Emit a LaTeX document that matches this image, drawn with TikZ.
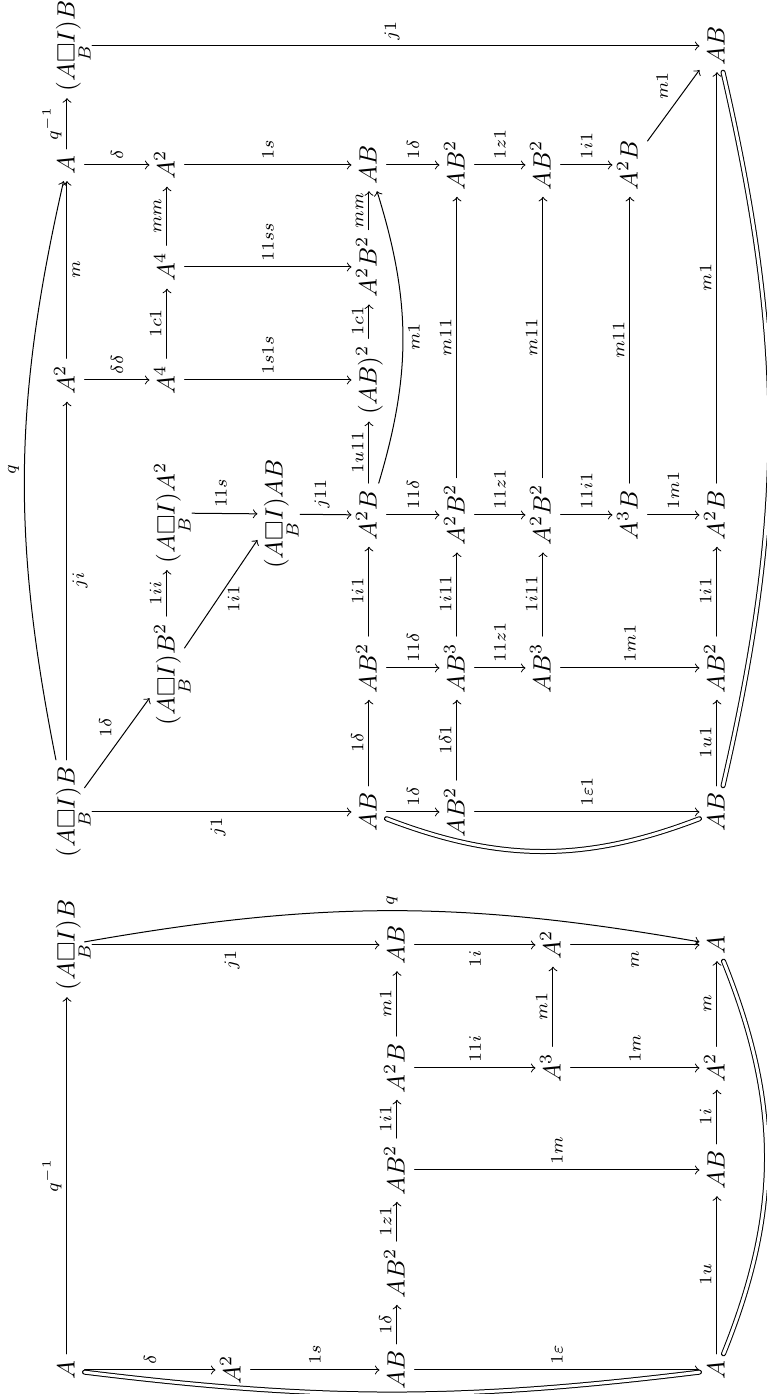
\documentclass[tikz,border=0pt]{standalone}
\usepackage{amsmath,amssymb}
\newcommand{\boxB}{(A\underset{B}{\square}I)}
\begin{document}
\begin{tikzpicture}[>=to, line join=round, line cap=round, x=0.4pt, y=0.4pt,
		rotate=90, transform shape,
		ob/.style={text height=1.7ex, text depth=.3ex, inner sep=2.5pt},
		lab/.style={font=\scriptsize, inner sep=2pt},
		sub/.style={shorten <=3pt},
		dbl/.style={double, double distance=1.2pt}]
		\useasboundingbox (0,0) rectangle (1394,767);
		% Sơ đồ 1
		\begin{scope}
			\node[ob] (p11) at (24,700) {$A$};
			\node[ob] (p21) at (24,534) {$A^2$};
			\node[ob] (p31) at (24,370) {$AB$};
			\node[ob] (p51) at (24,50) {$A$};
			\node[ob] (p32) at (121,370) {$AB^2$};
			\node[ob] (p33) at (224,370) {$AB^2$};
			\node[ob] (p53) at (224,50) {$AB$};
			\node[ob] (p34) at (326,370) {$A^2B$};
			\node[ob] (p44) at (326,214) {$A^3$};
			\node[ob] (p54) at (326,50) {$A^2$};
			\node[ob] (p15) at (449,700) {$\boxB B$};
			\node[ob] (p35) at (449,370) {$AB$};
			\node[ob] (p45) at (449,214) {$A^2$};
			\node[ob] (p55) at (449,50) {$A$};
			\draw[->] (p11) -- node[lab, above] {$q^{-1}$} (p15);
			\draw[->] (p11) -- node[lab, right] {$\delta$} (p21);
			\draw[->] (p21) -- node[lab, right] {$1s$} (p31);
			\draw[->] (p31) -- node[lab, right] {$1\varepsilon$} (p51);
			\draw[dbl] (p11) to[bend right=7] (p51);
			\draw[->] (p31) -- node[lab, above] {$1\delta$} (p32);
			\draw[->] (p32) -- node[lab, above] {$1z1$} (p33);
			\draw[->] (p33) -- node[lab, above] {$1i1$} (p34);
			\draw[->] (p34) -- node[lab, above] {$m1$} (p35);
			\draw[->] (p33) -- node[lab, right] {$1m$} (p53);
			\draw[->] (p34) -- node[lab, right] {$11i$} (p44);
			\draw[->] (p44) -- node[lab, right] {$1m$} (p54);
			\draw[->] (p44) -- node[lab, above] {$m1$} (p45);
			\draw[->, sub] (p15) -- node[lab, left] {$j1$} (p35);
			\draw[->] (p35) -- node[lab, left] {$1i$} (p45);
			\draw[->] (p45) -- node[lab, left] {$m$} (p55);
			\draw[->] (p15) to[bend left=10] node[lab, right] {$q$} (p55);
			\draw[->] (p51) -- node[lab, above] {$1u$} (p53);
			\draw[->] (p53) -- node[lab, above] {$1i$} (p54);
			\draw[->] (p54) -- node[lab, above] {$m$} (p55);
			\draw[dbl] (p51) to[bend right=22] (p55);
		\end{scope}
		% Sơ đồ 2
		\begin{scope}
			\node[ob] (q11) at (582,700) {$\boxB B$};
			\node[ob] (q41) at (582,398) {$AB$};
			\node[ob] (q51) at (582,310) {$AB^2$};
			\node[ob] (q81) at (582,50) {$AB$};
			\node[ob] (q22) at (720,600) {$\boxB B^2$};
			\node[ob] (q42) at (726,398) {$AB^2$};
			\node[ob] (q52) at (726,310) {$AB^3$};
			\node[ob] (q62) at (726,224) {$AB^3$};
			\node[ob] (q82) at (726,50) {$AB^2$};
			\node[ob] (q23) at (881,600) {$\boxB A^2$};
			\node[ob] (q33) at (880,492) {$\boxB AB$};
			\node[ob] (q43) at (879,398) {$A^2B$};
			\node[ob] (q53) at (879,310) {$A^2B^2$};
			\node[ob] (q63) at (879,224) {$A^2B^2$};
			\node[ob] (q73) at (879,137) {$A^3B$};
			\node[ob] (q83) at (879,50) {$A^2B$};
			\node[ob] (q14) at (1014,700) {$A^2$};
			\node[ob] (q24) at (1014,600) {$A^4$};
			\node[ob] (q44) at (1014,398) {$(AB)^2$};
			\node[ob] (q25) at (1127,600) {$A^4$};
			\node[ob] (q45) at (1127,398) {$A^2B^2$};
			\node[ob] (q16) at (1229,700) {$A$};
			\node[ob] (q26) at (1229,600) {$A^2$};
			\node[ob] (q46) at (1229,398) {$AB$};
			\node[ob] (q56) at (1229,310) {$AB^2$};
			\node[ob] (q66) at (1229,224) {$AB^2$};
			\node[ob] (q76) at (1229,137) {$A^2B$};
			\node[ob] (q17) at (1348,700) {$\boxB B$};
			\node[ob] (q87) at (1348,50) {$AB$};
			% hàng trên
			\draw[->] (q11) -- node[lab, below] {$ji$} (q14);
			\draw[->] (q14) -- node[lab, below] {$m$} (q16);
			\draw[->] (q16) -- node[lab, above] {$q^{-1}$} (q17);
			\draw[->] (q11) to[bend left=12] node[lab, above] {$q$} (q16);
			\draw[->] (q11) -- node[lab, above right] {$1\delta$} (q22);
			\draw[->] (q22) -- node[lab, below=2pt, pos=0.45] {$1i1$} (q33);
			\draw[->] (q22) -- node[lab, above] {$1ii$} (q23);
			\draw[->] (q24) -- node[lab, above] {$1c1$} (q25);
			\draw[->] (q25) -- node[lab, above] {$mm$} (q26);
			% cột
			\draw[->, sub] (q11) -- node[lab, left] {$j1$} (q41);
			\draw[->] (q41) -- node[lab, right] {$1\delta$} (q51);
			\draw[->] (q51) -- node[lab, right] {$1\varepsilon1$} (q81);
			\draw[dbl] (q41) to[bend right=21] (q81);
			\draw[->] (q42) -- node[lab, right] {$11\delta$} (q52);
			\draw[->] (q52) -- node[lab, right] {$11z1$} (q62);
			\draw[->] (q62) -- node[lab, right] {$1m1$} (q82);
			\draw[->, sub] (q23) -- node[lab, right] {$11s$} (q33);
			\draw[->, sub] (q33) -- node[lab, right] {$j11$} (q43);
			\draw[->] (q43) -- node[lab, right] {$11\delta$} (q53);
			\draw[->] (q53) -- node[lab, right] {$11z1$} (q63);
			\draw[->] (q63) -- node[lab, right] {$11i1$} (q73);
			\draw[->] (q73) -- node[lab, right] {$1m1$} (q83);
			\draw[->] (q14) -- node[lab, right] {$\delta\delta$} (q24);
			\draw[->] (q24) -- node[lab, right] {$1s1s$} (q44);
			\draw[->] (q25) -- node[lab, right] {$11ss$} (q45);
			\draw[->] (q16) -- node[lab, right] {$\delta$} (q26);
			\draw[->] (q26) -- node[lab, right] {$1s$} (q46);
			\draw[->] (q46) -- node[lab, right] {$1\delta$} (q56);
			\draw[->] (q56) -- node[lab, right] {$1z1$} (q66);
			\draw[->] (q66) -- node[lab, right] {$1i1$} (q76);
			\draw[->, sub] (q17) -- node[lab, right] {$j1$} (q87);
			% hàng giữa
			\draw[->] (q41) -- node[lab, above] {$1\delta$} (q42);
			\draw[->] (q42) -- node[lab, above] {$1i1$} (q43);
			\draw[->] (q43) -- node[lab, above] {$1u11$} (q44);
			\draw[->] (q44) -- node[lab, above] {$1c1$} (q45);
			\draw[->] (q45) -- node[lab, above] {$mm$} (q46);
			\draw[->] (q43) to[bend right=17] node[lab, below] {$m1$} (q46);
			\draw[->] (q51) -- node[lab, above] {$1\delta1$} (q52);
			\draw[->] (q52) -- node[lab, above] {$1i11$} (q53);
			\draw[->] (q53) -- node[lab, above] {$m11$} (q56);
			\draw[->] (q62) -- node[lab, above] {$1i11$} (q63);
			\draw[->] (q63) -- node[lab, above] {$m11$} (q66);
			\draw[->] (q73) -- node[lab, above] {$m11$} (q76);
			\draw[->] (q76) -- node[lab, above right] {$m1$} (q87);
			% hàng dưới
			\draw[->] (q81) -- node[lab, above] {$1u1$} (q82);
			\draw[->] (q82) -- node[lab, above] {$1i1$} (q83);
			\draw[->] (q83) -- node[lab, above] {$m1$} (q87);
			\draw[dbl] (q81) to[bend right=13] (q87);
		\end{scope}
	\end{tikzpicture}
\end{document}
